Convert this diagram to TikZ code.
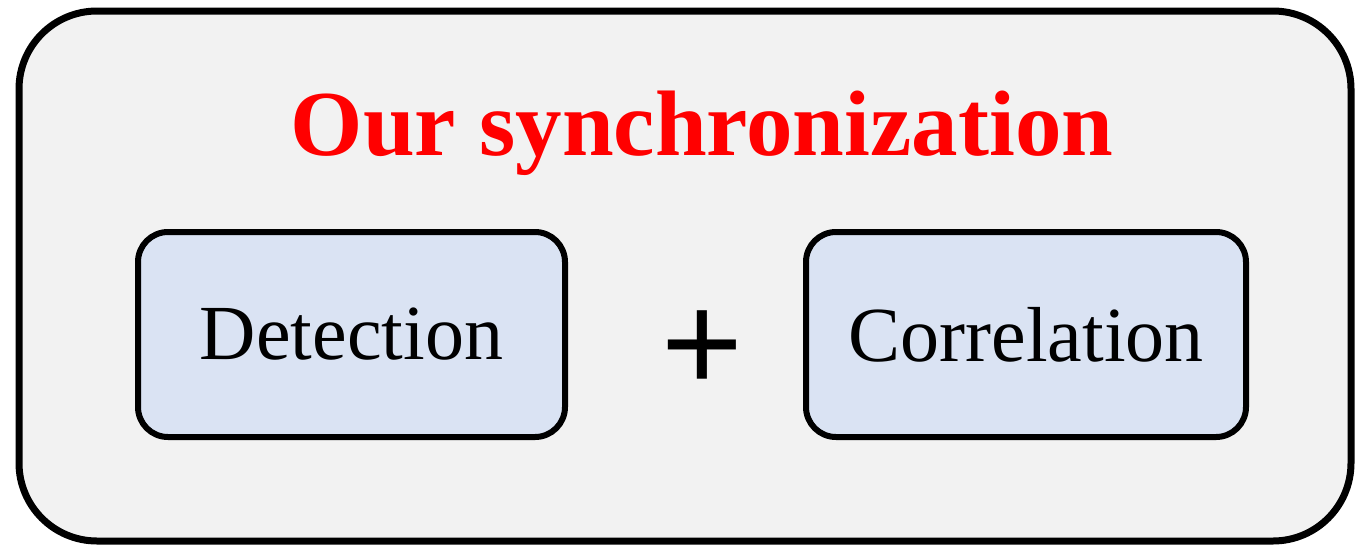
\documentclass[tikz,border=0pt]{standalone}
\usepackage{fontspec}
\setmainfont{Liberation Serif}
\newfontfamily\plusfont{Liberation Sans}
\definecolor{outerfill}{HTML}{F2F2F2}
\definecolor{innerfill}{HTML}{DAE3F3}
\definecolor{titlered}{HTML}{FF0000}
\tikzset{
  panel/.style={draw=black, line width=7pt, fill=outerfill, rounded corners=78pt},
  stagebox/.style={draw=black, line width=6pt, fill=innerfill, rounded corners=30pt,
    minimum height=205pt, inner sep=0pt, font=\fontsize{78}{90}\selectfont},
  titletext/.style={text=titlered, font=\fontsize{93}{110}\selectfont\bfseries, inner sep=0pt},
  plustext/.style={font=\plusfont\fontsize{140}{160}\selectfont, inner sep=0pt}
}
\begin{document}
\begin{tikzpicture}[x=1pt,y=-1pt]
\useasboundingbox (0,0) rectangle (1358,547);
\draw[panel] (19,11) rectangle (1351,541);
\node[titletext, anchor=base] (title) at (702,155) {Our synchronization};
\node[stagebox, minimum width=427pt] (det) at (351.5,334.5) {Detection};
\node[stagebox, minimum width=440pt] (cor) at (1026,334.5) {Correlation};
\node[plustext, anchor=base] (plus) at (702,391) {+};
\end{tikzpicture}
\end{document}
